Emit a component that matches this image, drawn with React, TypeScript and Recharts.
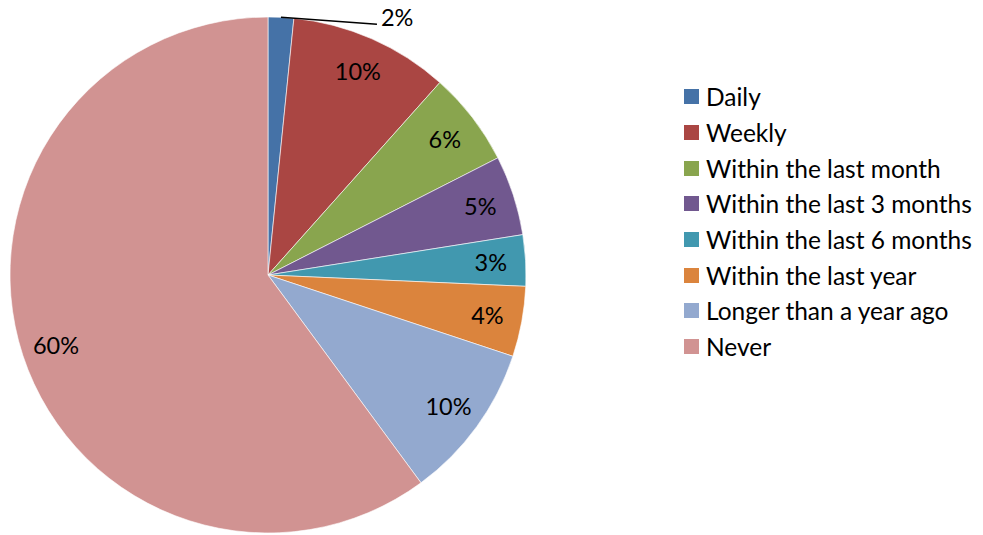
import React from "react";
import { PieChart, Pie, Cell, Legend } from "recharts";

const categories = [
  "Daily",
  "Weekly",
  "Within the last month",
  "Within the last 3 months",
  "Within the last 6 months",
  "Within the last year",
  "Longer than a year ago",
  "Never",
];
const shares = [1.6, 10.0, 5.9, 5.0, 3.2, 4.4, 9.8, 60.1];
const colors = [
  "#4572A7",
  "#AA4643",
  "#89A54E",
  "#71588F",
  "#4198AF",
  "#DB843D",
  "#93A9CF",
  "#D19392",
];

const data = categories.map((name, i) => ({ name, value: shares[i] }));

const FONT = "Lato, 'Open Sans', sans-serif";
const RAD = Math.PI / 180;

function renderLabel(props: any) {
  const { cx, cy, midAngle, outerRadius, percent, index } = props;
  const text = `${Math.round(percent * 100)}%`;
  if (index === 0) {
    // small slice: label outside with a leader line
    const ex = cx + outerRadius * Math.cos(-midAngle * RAD);
    const ey = cy + outerRadius * Math.sin(-midAngle * RAD);
    const lx = ex + 96;
    const ly = ey + 7;
    return (
      <g>
        <path d={`M${ex},${ey}L${lx},${ly}`} stroke="#000" strokeWidth={1.5} fill="none" />
        <text x={lx + 4} y={ey} fill="#000" fontSize={23.5} fontFamily={FONT} dominantBaseline="central">
          {text}
        </text>
      </g>
    );
  }
  const r = outerRadius * 0.865;
  const x = cx + r * Math.cos(-midAngle * RAD);
  const y = cy + r * Math.sin(-midAngle * RAD);
  return (
    <text x={x} y={y} fill="#000" fontSize={23.5} fontFamily={FONT} textAnchor="middle" dominantBaseline="central">
      {text}
    </text>
  );
}

// legend drawn in the data's own order (Recharts would sort it by name)
function LegendList() {
  return (
    <div style={{ fontFamily: FONT, fontSize: 24.5, color: "#000" }}>
      {categories.map((name, i) => (
        <div key={name} style={{ display: "flex", alignItems: "center", height: 35.7 }}>
          <span
            style={{
              display: "inline-block",
              width: 15,
              height: 15,
              background: colors[i],
              marginRight: 7,
            }}
          />
          <span>{name}</span>
        </div>
      ))}
    </div>
  );
}

export default function App() {
  return (
    <div style={{ position: "absolute", left: 0, top: 0, background: "#fff" }}>
      <PieChart width={983} height={535} margin={{ top: 0, right: 0, bottom: 0, left: 0 }}>
        <Pie
          data={data}
          dataKey="value"
          nameKey="name"
          cx={268}
          cy={275}
          outerRadius={258}
          startAngle={90}
          endAngle={-270}
          stroke="#fff"
          strokeWidth={0.6}
          label={renderLabel}
          labelLine={false}
          isAnimationActive={false}
        >
          {data.map((d, i) => (
            <Cell key={d.name} fill={colors[i]} />
          ))}
        </Pie>
        <Legend
          layout="vertical"
          align="right"
          verticalAlign="top"
          content={<LegendList />}
          wrapperStyle={{ position: "absolute", left: 684, top: 79, width: 299 }}
        />
      </PieChart>
    </div>
  );
}
